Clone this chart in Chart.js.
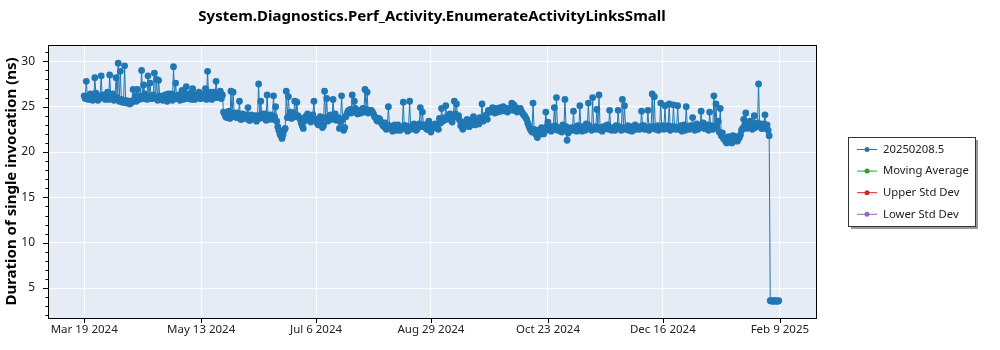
<!DOCTYPE html>
<html>
<head>
<meta charset="utf-8">
<script src="https://cdn.jsdelivr.net/npm/chart.js@4.4.1/dist/chart.umd.min.js"></script>
<style>
  html, body { margin: 0; padding: 0; background: #fff; }
  #wrap { width: 1000px; height: 350px; position: relative; }
</style>
</head>
<body>
<div id="wrap"><canvas id="perfChart"></canvas></div>
<script>
const chartTitle = 'System.Diagnostics.Perf_Activity.EnumerateActivityLinksSmall';
const yAxisTitle = 'Duration of single invocation (ns)';
const seriesNames = ['20250208.5', 'Moving Average', 'Upper Std Dev', 'Lower Std Dev'];
const seriesColors = ['#1f77b4', '#2ca02c', '#d62728', '#9467bd'];

// x axis is days since Mar 19 2024
const xTickDays = [0, 55, 109, 163, 218, 272, 327];
const xTickLabels = ['Mar 19 2024', 'May 13 2024', 'Jul 6 2024', 'Aug 29 2024', 'Oct 23 2024', 'Dec 16 2024', 'Feb 9 2025'];
const yTickValues = [5, 10, 15, 20, 25, 30];

// morning run per day, index = day offset
const durationsAm = [
  26.2, 27.8, 25.8, 26.4, 25.7, 28.2, 26.0, 25.9, 28.4, 26.3,
  25.8, 26.6, 28.5, 26.1, 25.7, 28.2, 29.8, 28.9, 25.5, 29.5,
  25.4, 25.6, 25.5, 26.9, 26.2, 26.9, 25.8, 29.0, 27.4, 26.1,
  28.4, 27.6, 25.9, 28.7, 28.0, 27.9, 26.0, 25.7, 26.3, 25.6,
  25.8, 26.4, 29.4, 27.6, 26.2, 25.7, 26.8, 26.1, 27.2, 25.9,
  26.5, 27.0, 25.8, 26.3, 26.6, 25.9, 26.2, 27.0, 28.9, 26.4,
  25.8, 26.6, 27.8, 26.0, 26.7, 26.3, 24.2, 23.8, 24.5, 26.7,
  26.6, 23.9, 24.3, 25.6, 23.6, 23.9, 24.1, 24.9, 23.5, 23.7,
  24.0, 23.4, 27.5, 25.6, 23.8, 24.2, 26.3, 23.6, 24.0, 26.2,
  25.0, 22.8, 22.0, 21.5, 22.4, 26.7, 26.1, 24.4, 24.0, 25.6,
  25.5, 23.8, 23.2, 22.6, 23.9, 24.2, 23.5, 23.8, 25.6, 23.4,
  23.0, 23.9, 22.7, 26.7, 25.9, 23.6, 24.1, 25.8, 24.2, 23.7,
  22.6, 26.2, 22.4, 23.9, 24.5, 24.7, 26.3, 25.6, 24.4, 24.6,
  24.3, 24.8, 26.9, 26.6, 24.5, 24.6, 24.2, 23.8, 23.4, 23.6,
  23.1, 22.8, 22.5, 25.0, 22.7, 22.3, 23.0, 22.4, 22.8, 22.5,
  25.5, 22.9, 22.3, 25.6, 22.6, 23.1, 22.4, 22.9, 24.9, 24.4,
  23.0, 22.5, 23.4, 22.2, 22.8, 23.1, 22.6, 23.7, 24.8, 23.5,
  25.1, 23.9, 24.2, 23.3, 25.6, 25.3, 24.0, 22.9, 22.5, 23.2,
  23.6, 22.8, 23.4, 23.9, 23.0, 23.5, 23.8, 25.3, 23.7, 24.1,
  24.6, 24.4, 24.9, 24.3, 24.7, 24.6, 24.5, 25.0, 24.8, 24.4,
  24.7, 25.4, 25.2, 24.9, 24.5, 24.8, 24.3, 24.0, 23.6, 22.9,
  22.4, 25.4, 22.1, 21.6, 22.3, 22.7, 22.0, 24.4, 23.3, 22.5,
  22.8, 24.9, 26.0, 22.6, 22.3, 23.0, 25.8, 21.3, 22.4, 22.7,
  24.5, 22.5, 22.9, 25.1, 22.3, 22.8, 23.1, 25.4, 22.6, 26.0,
  22.5, 24.7, 26.3, 22.4, 22.8, 22.6, 23.0, 24.6, 22.4, 22.7,
  22.9, 24.6, 22.5, 25.8, 25.1, 22.6, 22.4, 22.8, 22.6, 23.0,
  22.7, 22.5, 24.5, 22.9, 22.6, 24.6, 22.8, 26.4, 26.1, 22.7,
  22.4, 25.4, 22.9, 25.1, 22.6, 25.3, 22.8, 25.2, 22.5, 25.1,
  22.6, 22.3, 23.0, 25.0, 22.7, 22.9, 23.8, 22.4, 23.1, 22.8,
  24.5, 23.2, 22.6, 23.0, 24.4, 22.9, 26.2, 25.3, 23.4, 24.8,
  22.1, 21.4, 21.0, 21.7, 21.3, 21.8, 21.5, 21.2, 21.6, 22.4,
  23.6, 24.3, 22.8, 23.4, 22.5, 24.0, 22.9, 27.5, 23.1, 22.6,
  24.1, 23.0, 21.8, 3.6, 3.55, 3.6, 3.55
];

// second (afternoon) run per day, plotted at day + 0.5
const durationsPm = [
  25.9, 26.1, 26.3, 25.8, 26.0, 26.5, 25.7, 26.2, 26.0, 25.9,
  26.3, 25.8, 26.1, 26.4, 25.9, 26.0, 25.6, 25.8, 25.5, 25.7,
  25.6, 25.3, 25.5, 25.8, 25.6, 26.0, 26.2, 25.9, 26.4, 25.8,
  26.1, 25.9, 26.3, 26.0, 25.7, 26.2, 25.8, 26.1, 25.9, 26.4,
  26.0, 25.7, 26.2, 25.9, 26.3, 26.1, 25.8, 26.4, 25.9, 26.2,
  25.8, 26.3, 26.0, 26.5, 25.9, 26.2, 26.4, 25.8, 26.1, 26.6,
  26.2, 26.0, 26.4, 26.3, 25.9, 24.4, 23.9, 24.1, 23.7, 24.0,
  24.3, 23.8, 24.0, 23.6, 24.2, 23.7, 23.9, 23.5, 24.1, 23.8,
  23.6, 24.0, 23.7, 24.2, 23.9, 23.5, 23.8, 24.1, 23.6, 23.9,
  23.4, 22.4, 21.8, 21.9, 22.6, 23.8, 24.1, 23.7, 24.3, 23.9,
  24.0, 23.6, 22.9, 23.4, 23.7, 23.9, 23.3, 24.1, 23.6, 23.2,
  23.7, 23.5, 22.9, 23.8, 23.4, 24.0, 23.6, 23.9, 23.5, 23.8,
  23.3, 23.6, 22.7, 24.2, 24.6, 24.3, 24.5, 24.8, 24.2, 24.5,
  24.6, 24.4, 24.7, 24.3, 24.6, 24.4, 23.9, 23.5, 23.7, 23.3,
  22.9, 23.2, 22.7, 22.9, 22.5, 22.8, 22.6, 23.0, 22.4, 22.7,
  22.9, 22.6, 22.8, 22.5, 22.9, 22.7, 22.5, 23.1, 22.8, 23.0,
  22.7, 22.9, 22.4, 22.6, 23.0, 22.8, 22.5, 23.2, 23.4, 23.8,
  23.6, 24.0, 23.5, 23.9, 24.2, 23.8, 23.5, 23.1, 22.8, 23.4,
  23.2, 23.5, 23.0, 23.6, 23.3, 23.1, 23.7, 23.4, 23.9, 23.6,
  24.4, 24.7, 24.5, 24.8, 24.4, 24.9, 24.6, 24.7, 24.5, 24.8,
  24.9, 24.6, 24.8, 24.4, 24.7, 24.5, 24.1, 23.8, 23.2, 22.6,
  22.2, 22.5, 21.9, 22.4, 22.0, 22.6, 22.3, 22.8, 22.5, 22.3,
  22.5, 22.9, 22.4, 22.7, 22.2, 22.6, 22.8, 22.1, 22.6, 22.4,
  22.7, 22.3, 22.6, 22.8, 22.5, 22.4, 22.7, 22.9, 22.4, 22.6,
  22.8, 22.5, 22.7, 22.3, 22.6, 22.9, 22.5, 22.7, 22.6, 22.4,
  22.6, 22.8, 22.4, 22.7, 22.5, 22.9, 22.6, 22.3, 22.7, 22.5,
  22.8, 22.6, 22.9, 22.5, 22.7, 22.4, 22.6, 22.8, 22.5, 22.9,
  22.6, 22.8, 22.5, 22.7, 22.9, 22.4, 22.6, 22.8, 22.7, 22.5,
  22.9, 22.6, 22.4, 22.8, 22.5, 22.7, 22.6, 22.9, 22.5, 22.7,
  22.8, 22.6, 22.9, 22.4, 22.7, 22.5, 22.8, 22.6, 22.2, 21.8,
  21.5, 21.2, 21.6, 21.3, 21.0, 21.5, 21.7, 21.4, 21.9, 22.6,
  23.0, 22.6, 23.3, 22.8, 23.1, 22.7, 23.2, 22.9, 22.6, 23.1,
  22.8, 22.4, 3.6, 3.55, 3.6, 3.55, 3.6
];

const FONT = "'Noto Sans', 'DejaVu Sans', sans-serif";

// interleave both runs in time order
const runPoints = [];
durationsAm.forEach((v, d) => {
  runPoints.push({ x: d, y: v });
  if (d < durationsPm.length) runPoints.push({ x: d + 0.5, y: durationsPm[d] });
});

// plot background
const plotBg = {
  id: 'plotBg',
  beforeDraw(chart) {
    const { ctx, chartArea: a } = chart;
    ctx.save();
    ctx.fillStyle = '#e5ecf6';
    ctx.fillRect(a.left, a.top, a.right - a.left, a.bottom - a.top);
    ctx.restore();
  }
};

// frame + tick marks (minor on y)
const frameTicks = {
  id: 'frameTicks',
  afterDraw(chart) {
    const { ctx, chartArea: a, scales } = chart;
    ctx.save();
    ctx.strokeStyle = '#000';
    ctx.lineWidth = 1;
    ctx.strokeRect(Math.round(a.left) + 0.5, Math.round(a.top) + 0.5,
      Math.round(a.right - a.left), Math.round(a.bottom - a.top));
    ctx.beginPath();
    for (let v = 2; v <= 31; v++) {
      const y = Math.round(scales.y.getPixelForValue(v)) + 0.5;
      const len = v % 5 === 0 ? 5 : 2.5;
      ctx.moveTo(a.left, y);
      ctx.lineTo(a.left - len, y);
    }
    xTickDays.forEach(d => {
      const x = Math.round(scales.x.getPixelForValue(d)) + 0.5;
      ctx.moveTo(x, a.bottom);
      ctx.lineTo(x, a.bottom + 5);
    });
    ctx.stroke();
    ctx.restore();
  }
};

// boxed legend with drop shadow on the right
const boxLegend = {
  id: 'boxLegend',
  afterDraw(chart) {
    const ctx = chart.ctx;
    const x = 848, y = 137, w = 127, h = 89;
    ctx.save();
    ctx.fillStyle = '#9a9a9a';
    ctx.fillRect(x + 3, y + 3, w, h);
    ctx.fillStyle = '#fff';
    ctx.fillRect(x, y, w, h);
    ctx.strokeStyle = '#333';
    ctx.lineWidth = 1;
    ctx.strokeRect(x + 0.5, y + 0.5, w, h);
    chart.data.datasets.forEach((ds, i) => {
      const cy = y + 12.5 + i * 21.6;
      ctx.strokeStyle = ds.borderColor;
      ctx.lineWidth = 1;
      ctx.beginPath();
      ctx.moveTo(x + 9, cy);
      ctx.lineTo(x + 29, cy);
      ctx.stroke();
      ctx.fillStyle = ds.borderColor;
      ctx.beginPath();
      ctx.arc(x + 19, cy, 2.5, 0, Math.PI * 2);
      ctx.fill();
      ctx.fillStyle = '#222';
      ctx.font = '11.3px ' + FONT;
      ctx.textBaseline = 'middle';
      ctx.fillText(ds.label, x + 35, cy);
    });
    ctx.restore();
  }
};

const ctx = document.getElementById('perfChart');

new Chart(ctx, {
  type: 'line',
  data: {
    datasets: seriesNames.map((name, i) => ({
      label: name,
      data: i === 0 ? runPoints : [],
      borderColor: seriesColors[i],
      backgroundColor: seriesColors[i],
      borderWidth: 1,
      pointRadius: 3.4,
      pointBorderWidth: 0,
      pointHoverRadius: 3.4,
      tension: 0,
      fill: false
    }))
  },
  options: {
    responsive: true,
    maintainAspectRatio: false,
    animation: false,
    layout: { padding: { left: 0, right: 184, top: 0, bottom: 0 } },
    plugins: {
      legend: { display: false },
      tooltip: { enabled: false },
      title: {
        display: true,
        text: chartTitle,
        fullSize: false,
        color: '#000',
        font: { family: FONT, size: 15, weight: 'bold' },
        padding: { top: 8, bottom: 19 }
      }
    },
    scales: {
      x: {
        type: 'linear',
        min: -17,
        max: 344,
        afterBuildTicks: s => { s.ticks = xTickDays.map(d => ({ value: d })); },
        afterFit: s => { s.height = 32; },
        grid: { color: '#ffffff', lineWidth: 1, drawTicks: false },
        border: { display: false },
        ticks: {
          maxRotation: 0,
          autoSkip: false,
          padding: 5,
          color: '#222',
          font: { family: FONT, size: 11.5 },
          callback: v => xTickLabels[xTickDays.indexOf(v)]
        }
      },
      y: {
        min: 1.7,
        max: 31.8,
        afterBuildTicks: s => { s.ticks = yTickValues.map(v => ({ value: v })); },
        afterFit: s => { s.width = 48; },
        grid: { color: '#ffffff', lineWidth: 1, drawTicks: false },
        border: { display: false },
        ticks: {
          padding: 13,
          color: '#222',
          font: { family: FONT, size: 12 }
        },
        title: {
          display: true,
          text: yAxisTitle,
          color: '#000',
          font: { family: FONT, size: 15, weight: 'bold' },
          padding: { top: 3, bottom: 0 }
        }
      }
    }
  },
  plugins: [plotBg, frameTicks, boxLegend]
});
</script>
</body>
</html>
